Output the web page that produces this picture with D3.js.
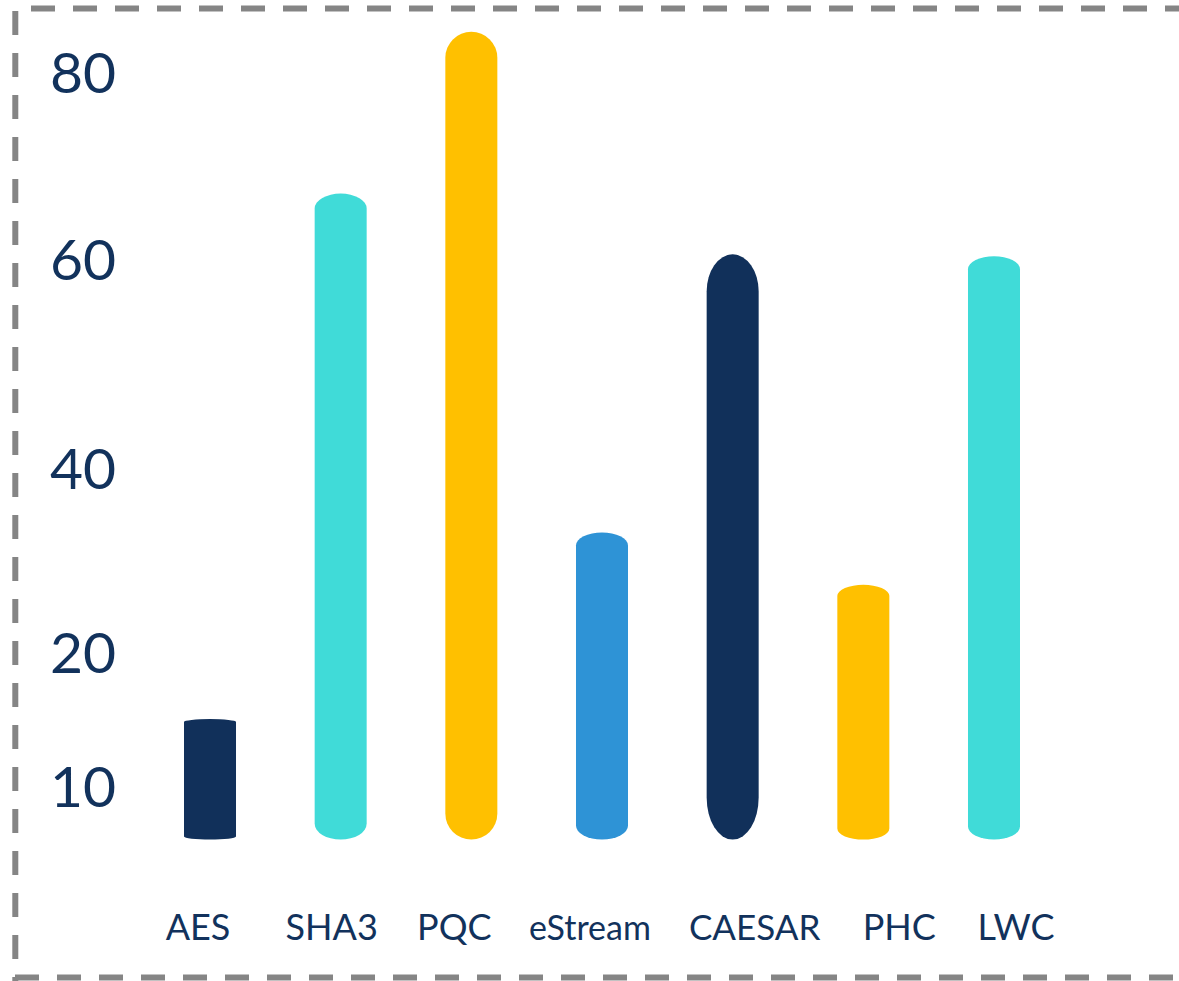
<!DOCTYPE html>
<html>
<head>
<meta charset="utf-8">
<script src="https://cdn.jsdelivr.net/npm/d3@7"></script>
<style>
    html, body { margin: 0; padding: 0; background: #fff; }
    svg { display: block; }
</style>
</head>
<body>
<div id="chart"></div>
<script>
// Datos del gráfico
const categories = ["AES", "SHA3", "PQC", "eStream", "CAESAR", "PHC", "LWC"];
const values = [15, 67, 84.3, 33, 60.5, 27.3, 60.3];
const baseValue = 6;
const yTickValues = [10, 20, 40, 60, 80];
const yTickPositions = [786, 652, 468, 259, 72]; // el eje original no es lineal

// Estilo de cada barra
const barColors = ["#11305a", "#40dbd8", "#ffc000", "#2e93d6", "#11305a", "#ffc000", "#40dbd8"];
const capTop = [3, 15, 26, 13, 37, 11, 13];
const capBottom = [3, 16, 26, 14, 42, 11, 13];
const labelNudge = [-12, -9, -17, -12, 22, 36, 22];
const labelSizes = [36, 36, 36, 34, 35, 36, 36];

const width = 1179;
const height = 981;
const textColor = "#12325c";
const fontFamily = "Lato, 'Open Sans', sans-serif";

const svg = d3.select("#chart").append("svg")
    .attr("width", width)
    .attr("height", height);

// escala polilineal: cada etiqueta del eje tiene su propia altura
const yScale = d3.scaleLinear()
    .domain(yTickValues)
    .range(yTickPositions);

const xScale = d3.scaleBand()
    .domain(categories)
    .range([144.67, 1059.33])
    .paddingInner(0.602)
    .paddingOuter(0.301);

// borde discontinuo
const border = svg.append("g")
    .attr("stroke", "#858585")
    .attr("stroke-width", 6)
    .attr("stroke-dasharray", "24,18")
    .attr("fill", "none");

border.append("line").attr("x1", 31).attr("y1", 8.5).attr("x2", width + 20).attr("y2", 8.5);
border.append("line").attr("x1", 15.3).attr("y1", 11).attr("x2", 15.3).attr("y2", height);
border.append("line").attr("x1", 15).attr("y1", 977.5).attr("x2", width + 20).attr("y2", 977.5);

// eje Y
const yAxis = d3.axisLeft(yScale)
    .tickValues(yTickValues)
    .tickSize(0)
    .tickFormat(d3.format("d"));

const yAxisG = svg.append("g")
    .attr("transform", "translate(50,0)")
    .call(yAxis);

yAxisG.select(".domain").remove();
yAxisG.selectAll("text")
    .attr("x", 0)
    .attr("dy", "0.36em")
    .attr("text-anchor", "start")
    .attr("fill", textColor)
    .style("font-family", fontFamily)
    .style("font-size", "57px");

// barras con extremos elípticos
const barPath = (d, i) => {
    const x0 = xScale(d.name);
    const x1 = x0 + xScale.bandwidth();
    const rx = xScale.bandwidth() / 2;
    const yTop = yScale(d.value);
    const yBot = yScale(baseValue);
    const rt = capTop[i];
    const rb = capBottom[i];
    return `M${x0},${yTop + rt}` +
        `A${rx},${rt} 0 0 1 ${x1},${yTop + rt}` +
        `L${x1},${yBot - rb}` +
        `A${rx},${rb} 0 0 1 ${x0},${yBot - rb}Z`;
};

const data = categories.map((name, i) => ({ name, value: values[i] }));

svg.selectAll("path.bar")
    .data(data)
    .enter()
    .append("path")
    .attr("class", "bar")
    .attr("d", barPath)
    .attr("fill", (d, i) => barColors[i]);

// etiquetas del eje X
svg.selectAll("text.cat")
    .data(data)
    .enter()
    .append("text")
    .attr("class", "cat")
    .attr("x", (d, i) => xScale(d.name) + xScale.bandwidth() / 2 + labelNudge[i])
    .attr("y", 940)
    .attr("text-anchor", "middle")
    .attr("fill", textColor)
    .style("font-family", fontFamily)
    .style("font-size", (d, i) => labelSizes[i] + "px")
    .text(d => d.name);
</script>
</body>
</html>
